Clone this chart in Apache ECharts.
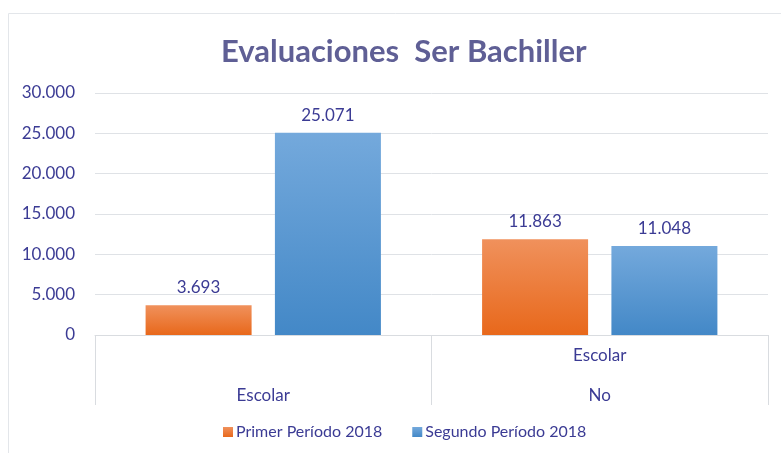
<!DOCTYPE html>
<html>
<head>
<meta charset="utf-8">
<script src="https://cdn.jsdelivr.net/npm/echarts@6/dist/echarts.min.js"></script>
<style>
    html, body { margin: 0; padding: 0; background: #fff; }
    #chart { width: 781px; height: 453px; }
</style>
</head>
<body>
<div id="chart"></div>
<script>
const categories = ['Escolar', 'No Escolar'];
const categoryTop = ['', 'Escolar'];
const categoryBottom = ['Escolar', 'No'];
const seriesNames = ['Primer Período 2018', 'Segundo Período 2018'];
const primerPeriodo = [3693, 11863];
const segundoPeriodo = [25071, 11048];

const TEXT_COLOR = '#3b3b94';
const FONT = 'Lato';

function fmt(v) {
    return String(v).replace(/\B(?=(\d{3})+(?!\d))/g, '.');
}

function gradient(top, bottom) {
    return new echarts.graphic.LinearGradient(0, 0, 0, 1, [
        {offset: 0, color: top},
        {offset: 1, color: bottom}
    ]);
}

document.addEventListener('DOMContentLoaded', () => {
    let chart = echarts.init(document.getElementById('chart'));
    let barLabel = {
        show: true,
        position: 'top',
        distance: 9,
        fontFamily: FONT,
        fontSize: 17,
        color: TEXT_COLOR,
        formatter: (p) => fmt(p.value)
    };
    let option = {
        backgroundColor: '#fff',
        animation: false,
        graphic: [{
            type: 'rect',
            shape: {x: 8.5, y: 13.5, width: 800, height: 460},
            style: {fill: 'none', stroke: '#e3e6ea', lineWidth: 1}
        }],
        title: {
            text: 'Evaluaciones  Ser Bachiller',
            left: 216,
            top: 31,
            textStyle: {
                fontFamily: FONT,
                fontWeight: 'bold',
                fontSize: 31,
                color: '#5f5f95'
            }
        },
        legend: {
            data: seriesNames,
            bottom: 8,
            left: 218,
            itemWidth: 10,
            itemHeight: 10,
            itemGap: 30,
            icon: 'rect',
            textStyle: {fontFamily: FONT, fontSize: 16, color: TEXT_COLOR, padding: [0, 0, 0, -2]}
        },
        grid: {
            left: 95,
            right: 13,
            top: 93,
            bottom: 118
        },
        xAxis: {
            type: 'category',
            data: categories,
            axisLine: {lineStyle: {color: '#d9dce0'}},
            axisTick: {show: true, length: 70, lineStyle: {color: '#d9dce0'}},
            axisLabel: {
                fontFamily: FONT,
                fontSize: 17,
                color: TEXT_COLOR,
                lineHeight: 40,
                margin: 1,
                formatter: (v, i) => categoryTop[i] + '\n' + categoryBottom[i]
            }
        },
        yAxis: {
            type: 'value',
            min: 0,
            max: 30000,
            interval: 5000,
            axisLine: {show: false},
            axisTick: {show: false},
            splitLine: {lineStyle: {color: '#dfe2e6'}},
            axisLabel: {
                fontFamily: FONT,
                fontSize: 17,
                color: TEXT_COLOR,
                margin: 20,
                formatter: (v) => fmt(v)
            }
        },
        series: [
            {
                name: seriesNames[0],
                type: 'bar',
                data: primerPeriodo,
                barWidth: 106,
                barGap: '22%',
                itemStyle: {color: gradient('#f0915c', '#e8681b')},
                label: barLabel
            },
            {
                name: seriesNames[1],
                type: 'bar',
                data: segundoPeriodo,
                barWidth: 106,
                itemStyle: {color: gradient('#74a9dc', '#4388c7')},
                label: barLabel
            }
        ]
    };
    chart.setOption(option);
});
</script>
</body>
</html>
